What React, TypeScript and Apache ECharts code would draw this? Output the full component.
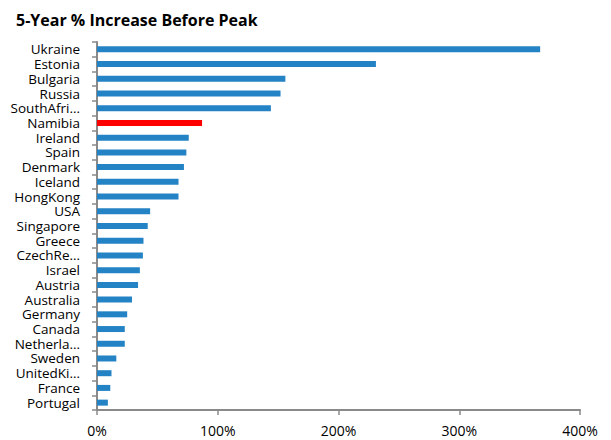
import React, { useEffect, useRef } from "react";
import * as echarts from "echarts";

const countries = [
  "Ukraine", "Estonia", "Bulgaria", "Russia", "SouthAfrica", "Namibia", "Ireland",
  "Spain", "Denmark", "Iceland", "HongKong", "USA", "Singapore", "Greece",
  "CzechRepublic", "Israel", "Austria", "Australia", "Germany", "Canada",
  "Netherlands", "Sweden", "UnitedKingdom", "France", "Portugal",
];

// 5-year percentage increase before the peak
const increase = [
  367, 231, 156, 152, 144, 87, 76, 74, 72, 67.5, 67.5, 44, 42, 38.5, 38,
  35.5, 34, 29, 25, 23, 23, 16, 12, 11, 9,
];

const highlight = "Namibia";
const xTicks = [0, 100, 200, 300, 400];

const FONT = "'Open Sans', Lato, sans-serif";

export default function App() {
  const ref = useRef<HTMLDivElement>(null);

  useEffect(() => {
    if (!ref.current) return;
    const chart = echarts.init(ref.current, undefined, { renderer: "svg" });
    chart.setOption({
      animation: false,
      backgroundColor: "#ffffff",
      title: {
        text: "5-Year % Increase Before Peak",
        left: 11,
        top: 7,
        textStyle: { fontFamily: FONT, fontSize: 16, fontWeight: "bold", color: "#000" },
      },
      grid: { left: 97, right: 31, top: 42, bottom: 30, containLabel: false },
      xAxis: {
        type: "value",
        min: xTicks[0],
        max: xTicks[xTicks.length - 1],
        interval: 100,
        splitLine: { show: false },
        axisLine: { show: true, lineStyle: { color: "#8a8a8a", width: 2 } },
        axisTick: { show: true, length: 5, lineStyle: { color: "#8a8a8a", width: 1.5 } },
        axisLabel: {
          formatter: "{value}%",
          fontFamily: FONT,
          fontSize: 14,
          color: "#000",
          margin: 13,
        },
      },
      yAxis: {
        type: "category",
        inverse: true,
        data: countries,
        axisLine: { show: true, lineStyle: { color: "#8a8a8a", width: 2 } },
        axisTick: { show: true, length: 5, interval: 0, lineStyle: { color: "#8a8a8a", width: 1.5 } },
        axisLabel: {
          interval: 0,
          fontFamily: FONT,
          fontSize: 13.5,
          lineHeight: 13,
          color: "#000",
          margin: 17,
          width: 73,
          overflow: "truncate",
          ellipsis: "…",
        },
      },
      series: [
        {
          type: "bar",
          barWidth: 6,
          data: increase.map((v, i) => ({
            value: v,
            itemStyle: { color: countries[i] === highlight ? "#ff0000" : "#2483c5" },
          })),
        },
      ],
    });
    return () => chart.dispose();
  }, []);

  return (
    <div
      ref={ref}
      style={{ position: "fixed", left: 0, top: 0, width: 611, height: 440 }}
    />
  );
}
